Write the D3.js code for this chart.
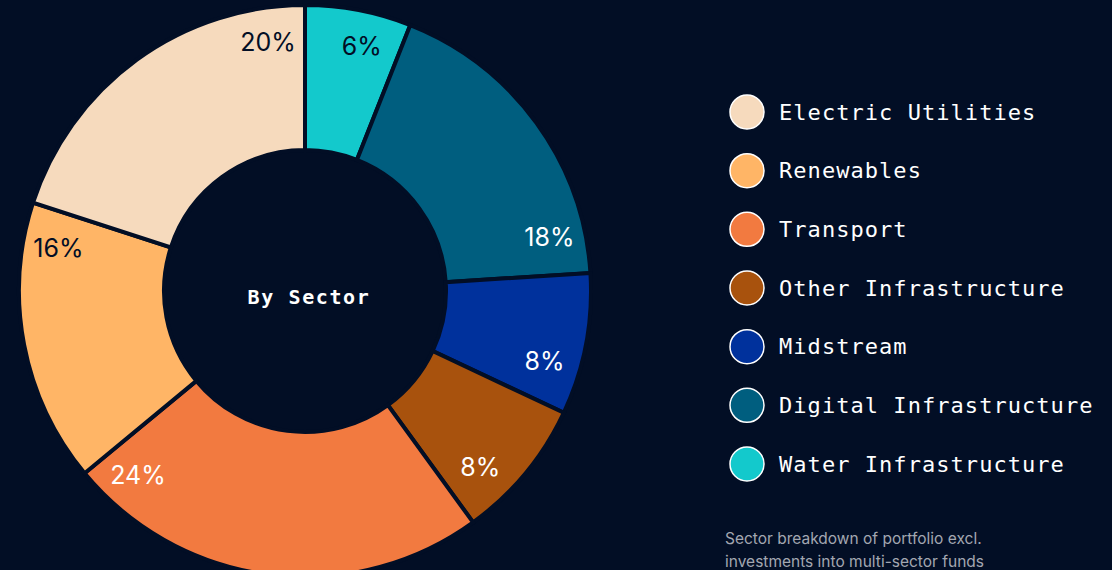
<!DOCTYPE html>
<html>
<head>
<meta charset="utf-8">
<script src="https://cdn.jsdelivr.net/npm/d3@7"></script>
<style>
  html, body { margin: 0; padding: 0; background: #020e25; }
  #chart { width: 1112px; height: 570px; overflow: hidden; }
</style>
</head>
<body>
<div id="chart"></div>
<script>
const sectors = ["Water Infrastructure", "Digital Infrastructure", "Midstream", "Other Infrastructure",
                 "Transport", "Renewables", "Electric Utilities"];
const shares = [6, 18, 8, 8, 24, 16, 20];
const colors = ["#13c9cc", "#005e7f", "#00319c", "#a8520d", "#f27a40", "#ffb566", "#f6dabd"];
const darkText = ["Water Infrastructure", "Renewables", "Electric Utilities"];
const legendOrder = ["Electric Utilities", "Renewables", "Transport", "Other Infrastructure",
                     "Midstream", "Digital Infrastructure", "Water Infrastructure"];

const bg = "#020e25";
const width = 1112, height = 570;
const cx = 305, cy = 291;

const color = d3.scaleOrdinal().domain(sectors).range(colors);

const svg = d3.select("#chart")
  .append("svg")
    .attr("width", width)
    .attr("height", height);

const data = sectors.map((s, i) => ({sector: s, value: shares[i]}));

const pie = d3.pie()
    .value(d => d.value)
    .sort(null);

const arc = d3.arc()
    .innerRadius(141)
    .outerRadius(286);

const g = svg.append("g")
    .attr("transform", `translate(${cx},${cy})`);

const arcs = pie(data);

g.selectAll("path")
  .data(arcs)
  .enter()
  .append("path")
    .attr("d", arc)
    .attr("fill", d => color(d.data.sector))
    .attr("stroke", bg)
    .attr("stroke-width", 4)
    .attr("stroke-linejoin", "miter");

// labels sit near the trailing edge of each slice
const labelR = 250, labelShift = 8.5 * Math.PI / 180;
g.selectAll("text.pct")
  .data(arcs)
  .enter()
  .append("text")
    .attr("class", "pct")
    .attr("x", d => labelR * Math.sin(d.endAngle - labelShift))
    .attr("y", d => -labelR * Math.cos(d.endAngle - labelShift) - 2)
    .attr("text-anchor", "middle")
    .attr("dominant-baseline", "central")
    .style("font-family", "Inter, 'Noto Sans', sans-serif")
    .style("font-size", "25px")
    .style("font-weight", 400)
    .attr("fill", d => darkText.includes(d.data.sector) ? bg : "#ffffff")
    .text(d => d.data.value + "%");

svg.append("text")
    .attr("x", 309)
    .attr("y", 297)
    .attr("text-anchor", "middle")
    .attr("dominant-baseline", "central")
    .style("font-family", "'DejaVu Sans Mono', monospace")
    .style("font-size", "20px")
    .style("font-weight", "bold")
    .style("letter-spacing", "1.6px")
    .attr("fill", "#ffffff")
    .text("By Sector");

// legend
const legend = svg.append("g");
const ly = d3.scalePoint().domain(legendOrder).range([112, 464]);

const item = legend.selectAll("g")
  .data(legendOrder)
  .enter()
  .append("g")
    .attr("transform", d => `translate(747,${ly(d)})`);

item.append("circle")
    .attr("r", 17)
    .attr("fill", d => color(d))
    .attr("stroke", "#ffffff")
    .attr("stroke-width", 1.5);

item.append("text")
    .attr("x", 32)
    .attr("y", 0)
    .attr("dominant-baseline", "central")
    .style("font-family", "'DejaVu Sans Mono', monospace")
    .style("font-size", "22px")
    .style("letter-spacing", "1.05px")
    .attr("fill", "#ffffff")
    .text(d => d);

const note = ["Sector breakdown of portfolio excl.", "investments into multi-sector funds"];
svg.selectAll("text.note")
  .data(note)
  .enter()
  .append("text")
    .attr("class", "note")
    .attr("x", 725)
    .attr("y", (d, i) => 544 + i * 23)
    .style("font-family", "Inter, 'Noto Sans', sans-serif")
    .style("font-size", "15.5px")
    .attr("fill", "#a3a7b1")
    .text(d => d);
</script>
</body>
</html>
